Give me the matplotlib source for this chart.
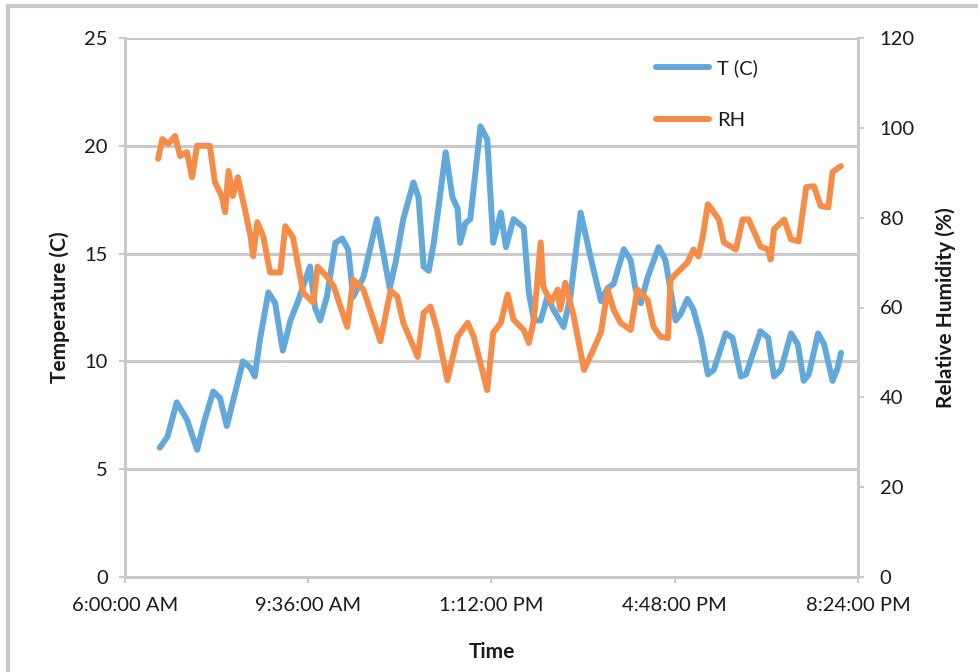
import numpy as np
import matplotlib
matplotlib.use("Agg")
import matplotlib.pyplot as plt
from matplotlib.ticker import FuncFormatter, MultipleLocator
from matplotlib.patches import Rectangle

plt.rcParams['font.family'] = ['Lato', 'DejaVu Sans']

# temperature readings (clock time, deg C)
t_times = ["06:41", "06:50", "07:01", "07:13", "07:25", "07:34", "07:44", "07:52",
           "08:00", "08:19", "08:28", "08:33", "08:39", "08:49", "08:57", "09:06",
           "09:15", "09:24", "09:38", "09:44", "09:50", "09:58", "10:08", "10:16",
           "10:23", "10:29", "10:41", "10:57", "11:12", "11:19", "11:28", "11:40",
           "11:46", "11:52", "11:58", "12:04", "12:18", "12:26", "12:32", "12:35",
           "12:41", "12:47", "12:59", "13:07", "13:14", "13:23", "13:29", "13:38",
           "13:50", "13:56", "14:02", "14:10", "14:18", "14:25", "14:37", "14:45",
           "14:57", "15:09", "15:21", "15:29", "15:36", "15:48", "15:56", "16:02",
           "16:08", "16:16", "16:29", "16:37", "16:43", "16:49", "16:55", "17:03",
           "17:10", "17:19", "17:27", "17:34", "17:48", "17:56", "18:06", "18:12",
           "18:29", "18:38", "18:45", "18:53", "19:05", "19:13", "19:20", "19:26",
           "19:37", "19:44", "19:54", "20:00", "20:04"]
temp_c = [6.0, 6.5, 8.1, 7.3, 5.9, 7.3, 8.6, 8.3,
          7.0, 10.0, 9.7, 9.3, 11.0, 13.2, 12.7, 10.5,
          11.9, 12.8, 14.4, 12.5, 11.9, 13.0, 15.5, 15.7,
          15.2, 13.0, 13.9, 16.6, 13.4, 14.6, 16.6, 18.3,
          17.6, 14.4, 14.2, 15.5, 19.7, 17.6, 17.1, 15.5,
          16.4, 16.6, 20.9, 20.3, 15.5, 16.9, 15.3, 16.6,
          16.2, 13.2, 11.9, 11.9, 13.0, 12.4, 11.6, 13.0,
          16.9, 14.8, 12.8, 13.4, 13.6, 15.2, 14.7, 13.3,
          12.7, 13.9, 15.3, 14.7, 13.3, 11.9, 12.2, 12.9,
          12.4, 11.1, 9.4, 9.6, 11.3, 11.1, 9.3, 9.4,
          11.4, 11.1, 9.3, 9.6, 11.3, 10.8, 9.1, 9.4,
          11.3, 10.8, 9.1, 9.7, 10.4]

# relative humidity readings (clock time, %)
rh_times = ["06:39", "06:44", "06:51", "06:59", "07:05", "07:13", "07:19", "07:25",
            "07:40", "07:46", "07:54", "07:58", "08:02", "08:07", "08:13", "08:22",
            "08:28", "08:31", "08:36", "08:43", "08:51", "09:03", "09:09", "09:18",
            "09:30", "09:42", "09:47", "09:58", "10:06", "10:22", "10:29", "10:41",
            "11:01", "11:13", "11:21", "11:28", "11:45", "11:52", "12:00", "12:08",
            "12:20", "12:32", "12:44", "12:51", "13:07", "13:14", "13:23", "13:31",
            "13:38", "13:50", "13:56", "14:02", "14:10", "14:13", "14:22", "14:30",
            "14:33", "14:39", "14:49", "15:01", "15:12", "15:21", "15:29", "15:36",
            "15:44", "15:56", "16:04", "16:16", "16:23", "16:31", "16:40", "16:43",
            "16:51", "17:03", "17:10", "17:16", "17:21", "17:27", "17:34", "17:40",
            "17:46", "17:54", "18:00", "18:08", "18:15", "18:24", "18:29", "18:38",
            "18:41", "18:45", "18:57", "19:05", "19:14", "19:23", "19:32", "19:40",
            "19:49", "19:54", "20:04"]
rh_pct = [93.1, 97.5, 96.4, 98.2, 93.7, 94.6, 89.0, 96.0,
          96.0, 87.9, 84.8, 81.2, 90.4, 84.8, 89.0, 81.2,
          75.8, 71.4, 79.0, 75.8, 67.8, 67.8, 78.1, 75.6,
          63.3, 61.1, 69.1, 66.9, 64.7, 55.7, 66.2, 64.0,
          52.5, 63.8, 62.4, 56.6, 49.0, 58.8, 60.2, 55.0,
          43.8, 53.5, 56.6, 53.5, 41.6, 54.4, 56.6, 62.9,
          57.3, 55.0, 52.1, 57.3, 74.5, 64.7, 61.1, 64.0,
          59.5, 65.5, 57.9, 46.1, 50.6, 54.5, 64.0, 59.5,
          56.6, 55.0, 64.0, 61.7, 55.7, 53.5, 53.2, 66.2,
          67.8, 70.0, 72.9, 71.4, 75.8, 83.0, 81.2, 79.6,
          74.5, 73.6, 72.9, 79.6, 79.6, 75.8, 73.6, 72.9,
          70.7, 77.4, 79.6, 75.2, 74.7, 86.8, 87.0, 82.6,
          82.3, 90.2, 91.5]

x_ticks = ["06:00", "09:36", "13:12", "16:48", "20:24"]


def to_hours(labels):
    return np.array([int(s[:2]) + int(s[3:]) / 60. for s in labels])


def clock_fmt(h, pos):
    mins = int(round(h * 60))
    hh, mm = mins // 60, mins % 60
    ampm = "AM" if hh < 12 else "PM"
    hh12 = hh % 12 or 12
    return "%d:%02d:00 %s" % (hh12, mm, ampm)


blue = "#62a8da"
orange = "#f58d48"
grid_c = "#c9c9c9"
txt_c = "#1a1a1a"
fs_tick = 14.5
fs_lab = 15

fig = plt.figure(figsize=(9.79, 6.72), dpi=100)
ax = fig.add_axes([125/979., 1 - 577/672., (858 - 125)/979., (577 - 38)/672.])
ax2 = ax.twinx()

l1, = ax.plot(to_hours(t_times), temp_c, color=blue, lw=4.3, solid_joinstyle='round',
              solid_capstyle='round', zorder=3)
l2, = ax2.plot(to_hours(rh_times), rh_pct, color=orange, lw=4.3, solid_joinstyle='round',
               solid_capstyle='round', zorder=3)

xt = to_hours(x_ticks)
ax.set_xlim(xt[0], xt[-1])
ax.set_xticks(xt)
ax.xaxis.set_major_formatter(FuncFormatter(clock_fmt))
ax.set_ylim(0, 25)
ax.yaxis.set_major_locator(MultipleLocator(5))
ax2.set_ylim(0, 120)
ax2.yaxis.set_major_locator(MultipleLocator(20))

ax.grid(axis='y', color=grid_c, lw=2.2)
ax.set_axisbelow(True)
for a in (ax, ax2):
    a.spines['top'].set_visible(False)
    for s in ('left', 'right', 'bottom'):
        a.spines[s].set_color(grid_c)
        a.spines[s].set_linewidth(2)
    a.tick_params(colors=grid_c, width=1.5, length=4.5, labelcolor=txt_c, labelsize=fs_tick)
ax.tick_params(axis='y', pad=8)
ax.tick_params(axis='x', pad=10)
ax2.tick_params(axis='y', pad=11)

ax.set_xlabel("Time", fontsize=fs_lab, fontweight='bold', color=txt_c, labelpad=20)
ax.set_ylabel("Temperature (C)", fontsize=fs_lab, fontweight='bold', color=txt_c, labelpad=10)
ax2.set_ylabel("Relative Humidity (%)", fontsize=fs_lab, fontweight='bold', color=txt_c, labelpad=15)

ax2.legend([l1, l2], ["T (C)", "RH"], loc='upper left', bbox_to_anchor=(0.70, 0.995),
           frameon=False, fontsize=fs_tick, handlelength=2.6, labelspacing=1.75,
           handletextpad=0.4, labelcolor=txt_c)

# chart area border (like the spreadsheet frame)
fig.patches.append(Rectangle((8/979., -0.1), 1.1, 1 - 6/672. + 0.1, transform=fig.transFigure,
                             fill=False, edgecolor=grid_c, lw=3, zorder=0))

fig.savefig("out.png", dpi=100)
